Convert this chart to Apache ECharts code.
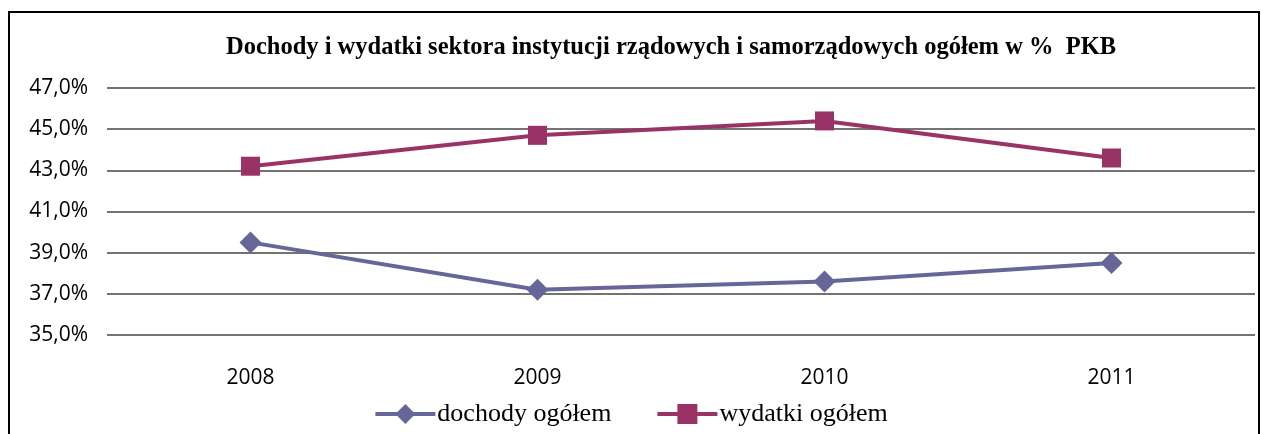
<!DOCTYPE html>
<html>
<head>
<meta charset="utf-8">
<script src="https://cdn.jsdelivr.net/npm/echarts@6/dist/echarts.min.js"></script>
<style>
    html, body { margin: 0; padding: 0; background: #fff; }
    #frame {
        position: absolute;
        left: 8px;
        top: 11px;
        width: 1248px;
        height: 440px;
        border: 2px solid #000;
    }
    #chart { position: absolute; left: 0; top: 0; width: 1261px; height: 434px; }
</style>
</head>
<body>
<div id="frame"></div>
<div id="chart"></div>
<script>
const years = ['2008', '2009', '2010', '2011']
const dochody = [39.5, 37.2, 37.6, 38.5]
const wydatki = [43.2, 44.7, 45.4, 43.6]
const seriesNames = ['dochody ogółem', 'wydatki ogółem']

const chart = echarts.init(document.getElementById('chart'))
const option = {
    animation: false,
    title: {
        text: 'Dochody i wydatki sektora instytucji rządowych i samorządowych ogółem w %  PKB',
        left: 666,
        textAlign: 'center',
        top: 30,
        textStyle: {
            fontFamily: 'Liberation Serif',
            fontWeight: 'bold',
            fontSize: 24.5,
            color: '#000',
        },
    },
    legend: {
        data: seriesNames,
        left: 'center',
        top: 396,
        itemWidth: 60,
        itemHeight: 25,
        itemGap: 44,
        lineStyle: { width: 4 },
        textStyle: {
            fontFamily: 'Liberation Serif',
            fontSize: 26,
            color: '#000',
            padding: [0, 0, 0, -3],
        },
    },
    grid: { left: 107, right: 6, top: 88, bottom: 99 },
    xAxis: {
        type: 'category',
        data: years,
        boundaryGap: true,
        axisLine: { show: false },
        axisTick: { show: false },
        axisLabel: {
            fontFamily: 'Open Sans',
            fontSize: 21,
            color: '#000',
            margin: 33,
        },
    },
    yAxis: {
        type: 'value',
        min: 35,
        max: 47,
        interval: 2,
        axisLine: { show: false },
        axisTick: { show: false },
        splitLine: { lineStyle: { color: '#444', width: 1.5 } },
        axisLabel: {
            fontFamily: 'Open Sans',
            fontSize: 21,
            color: '#000',
            margin: 19,
            formatter: v => v.toFixed(1).replace('.', ',') + '%',
        },
    },
    series: [
        {
            name: seriesNames[0],
            type: 'line',
            data: dochody,
            symbol: 'diamond',
            symbolSize: 22,
            color: '#666699',
            lineStyle: { width: 4, color: '#666699' },
            itemStyle: { color: '#666699' },
        },
        {
            name: seriesNames[1],
            type: 'line',
            data: wydatki,
            symbol: 'rect',
            symbolSize: 19,
            color: '#993366',
            lineStyle: { width: 4, color: '#993366' },
            itemStyle: { color: '#993366' },
        },
    ],
}
chart.setOption(option)
</script>
</body>
</html>
